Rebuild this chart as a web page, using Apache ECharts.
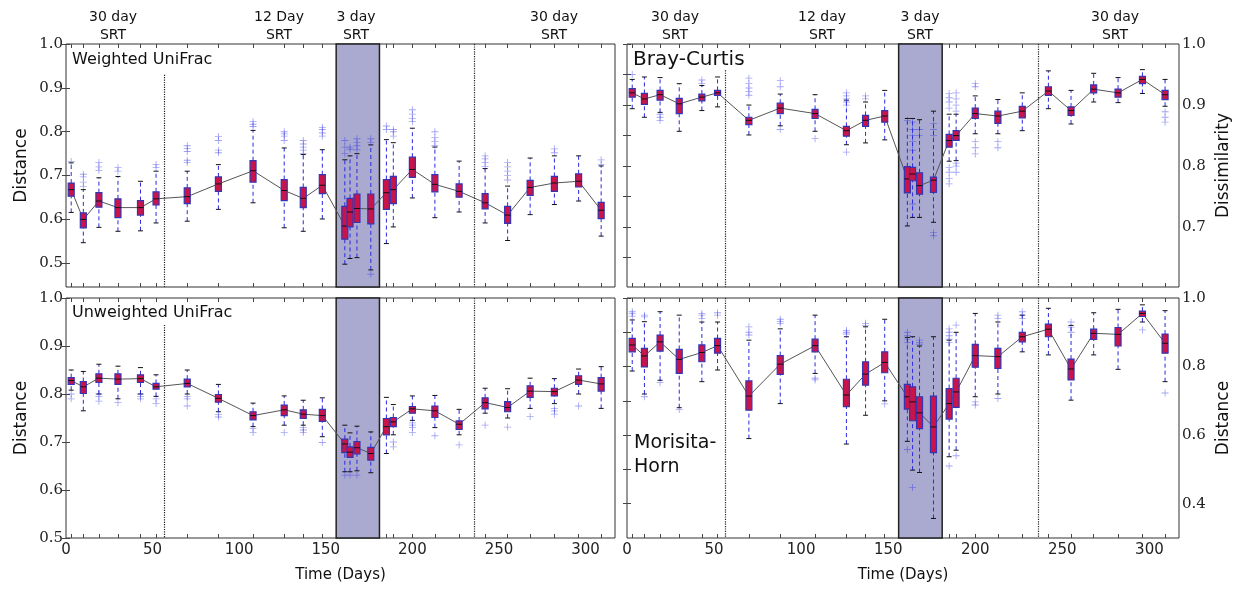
<!DOCTYPE html>
<html><head><meta charset="utf-8">
<script src="https://cdn.jsdelivr.net/npm/echarts@6/dist/echarts.min.js"></script>
<style>html,body{margin:0;padding:0;background:#fff}#c{width:1238px;height:590px}</style>
</head><body><div id="c"></div>
<script>
const days = [3,10,19,30,43,52,70,88,108,126,137,148,161,164,168,176,185,189,200,213,227,242,255,268,282,296,309];

// Weighted UniFrac
const wuMed = [0.668,0.600,0.642,0.627,0.627,0.647,0.652,0.681,0.711,0.666,0.648,0.678,0.585,0.617,0.625,0.624,0.661,0.668,0.714,0.680,0.664,0.638,0.610,0.673,0.683,0.687,0.621];
const wuQ1 = [0.653,0.581,0.628,0.604,0.610,0.633,0.636,0.664,0.685,0.643,0.627,0.659,0.555,0.583,0.593,0.590,0.623,0.636,0.696,0.663,0.651,0.624,0.591,0.655,0.664,0.674,0.602];
const wuQ3 = [0.683,0.615,0.661,0.647,0.643,0.663,0.672,0.697,0.734,0.691,0.673,0.702,0.630,0.648,0.658,0.658,0.691,0.698,0.742,0.702,0.681,0.659,0.630,0.689,0.698,0.704,0.639];
const wuLo = [0.616,0.547,0.582,0.573,0.574,0.592,0.596,0.623,0.638,0.581,0.573,0.601,0.498,0.511,0.513,0.485,0.545,0.583,0.649,0.604,0.617,0.592,0.552,0.611,0.634,0.642,0.562];
const wuHi = [0.729,0.668,0.695,0.698,0.687,0.710,0.710,0.725,0.803,0.763,0.748,0.759,0.736,0.745,0.750,0.770,0.782,0.775,0.808,0.765,0.733,0.716,0.676,0.740,0.745,0.745,0.722];
const wuOut = [[0.732],[0.675,0.685,0.697,0.703],[0.712,0.72,0.73],[0.71,0.718],[],[0.718,0.725],[0.73,0.735,0.755,0.762,0.768],[0.752,0.758,0.78,0.789],[0.812,0.817,0.823],[0.78,0.79,0.795,0.80],[0.75,0.758,0.765,0.772,0.78],[0.79,0.797,0.805,0.81],[0.75,0.765,0.78],[0.76,0.765],[0.759,0.768,0.775,0.784],[0.775,0.784,0.475],[0.805,0.813],[0.79,0.80,0.805],[0.823,0.83,0.84,0.85],[0.768,0.778,0.787,0.80],[],[0.721,0.73,0.738,0.745],[0.69,0.70,0.71,0.72,0.73],[],[0.752,0.761],[],[0.725,0.736]];

// Bray-Curtis
const bcMed = [0.920,0.910,0.917,0.902,0.913,0.920,0.875,0.895,0.886,0.858,0.875,0.882,0.779,0.787,0.768,0.777,0.842,0.850,0.886,0.882,0.890,0.923,0.891,0.926,0.920,0.942,0.917];
const bcQ1 = [0.913,0.901,0.908,0.886,0.907,0.916,0.868,0.886,0.878,0.849,0.865,0.872,0.756,0.776,0.754,0.757,0.831,0.842,0.878,0.870,0.879,0.916,0.883,0.920,0.913,0.935,0.909];
const bcQ3 = [0.927,0.919,0.924,0.911,0.918,0.924,0.880,0.903,0.893,0.865,0.883,0.891,0.799,0.798,0.789,0.782,0.852,0.858,0.895,0.890,0.898,0.930,0.897,0.933,0.926,0.947,0.924];
const bcLo = [0.894,0.880,0.888,0.857,0.891,0.897,0.851,0.866,0.857,0.835,0.838,0.843,0.702,0.716,0.716,0.708,0.808,0.809,0.853,0.853,0.858,0.894,0.869,0.905,0.904,0.919,0.898];
const bcHi = [0.942,0.946,0.945,0.935,0.932,0.946,0.900,0.918,0.917,0.908,0.905,0.924,0.878,0.878,0.876,0.890,0.885,0.885,0.915,0.909,0.920,0.956,0.924,0.952,0.945,0.958,0.942];
const bcOut = [[0.950],[],[0.875,0.88,0.885],[],[0.935,0.941],[],[0.916,0.922,0.928,0.935,0.944],[0.93,0.94,0.86],[0.845],[0.90,0.905,0.91,0.915,0.92,0.823],[0.91,0.915],[],[0.875],[0.826,0.84,0.85,0.86,0.872,0.738],[0.85,0.86],[0.85,0.86,0.87,0.691,0.686],[0.895,0.905,0.912,0.919,0.771,0.78,0.79,0.798],[0.89,0.90,0.91,0.92,0.79,0.80,0.805],[0.93,0.935,0.82,0.83,0.84],[0.83,0.84],[],[],[],[],[],[],[0.872,0.88,0.889]];

// Unweighted UniFrac
const uuMed = [0.828,0.815,0.833,0.831,0.832,0.815,0.822,0.791,0.755,0.767,0.758,0.755,0.696,0.679,0.688,0.676,0.732,0.742,0.769,0.765,0.737,0.782,0.772,0.806,0.805,0.829,0.821];
const uuQ1 = [0.820,0.801,0.824,0.820,0.824,0.810,0.815,0.783,0.746,0.755,0.749,0.743,0.678,0.668,0.675,0.662,0.715,0.732,0.760,0.751,0.726,0.769,0.763,0.793,0.796,0.820,0.806];
const uuQ3 = [0.834,0.826,0.842,0.842,0.840,0.822,0.831,0.799,0.763,0.777,0.767,0.768,0.706,0.690,0.701,0.689,0.749,0.751,0.774,0.775,0.744,0.792,0.784,0.817,0.812,0.838,0.834];
const uuLo = [0.808,0.765,0.800,0.790,0.800,0.795,0.800,0.763,0.732,0.735,0.735,0.711,0.638,0.638,0.640,0.636,0.676,0.715,0.745,0.730,0.715,0.760,0.750,0.770,0.780,0.800,0.770];
const uuHi = [0.850,0.847,0.862,0.858,0.855,0.840,0.850,0.820,0.781,0.796,0.787,0.792,0.735,0.719,0.733,0.721,0.793,0.778,0.796,0.797,0.768,0.812,0.811,0.833,0.832,0.852,0.857];
const uuOut = [[0.80,0.79],[],[0.785,0.795,0.80],[0.782],[0.79,0.795,0.80],[0.78,0.79],[0.775,0.79,0.795],[0.752,0.757],[0.72,0.728],[0.72],[0.72,0.725,0.73],[0.699],[0.631],[0.631],[0.631],[],[],[0.69,0.70],[0.72,0.73,0.735,0.74],[0.713],[0.694],[0.735],[0.731],[0.753],[0.758,0.765,0.77],[0.775],[]];

// Morisita-Horn
const mhMed = [0.863,0.831,0.872,0.821,0.841,0.861,0.714,0.807,0.861,0.717,0.778,0.812,0.712,0.697,0.665,0.624,0.692,0.726,0.832,0.829,0.887,0.909,0.793,0.897,0.894,0.955,0.868];
const mhQ1 = [0.843,0.799,0.845,0.780,0.814,0.839,0.673,0.777,0.843,0.683,0.746,0.782,0.676,0.642,0.619,0.549,0.647,0.681,0.798,0.795,0.872,0.887,0.761,0.879,0.860,0.946,0.839];
const mhQ3 = [0.882,0.853,0.892,0.850,0.863,0.882,0.758,0.832,0.880,0.763,0.814,0.843,0.748,0.741,0.712,0.714,0.736,0.766,0.865,0.853,0.900,0.924,0.822,0.909,0.914,0.962,0.895];
const mhLo = [0.787,0.720,0.760,0.680,0.756,0.790,0.590,0.692,0.780,0.574,0.658,0.700,0.582,0.498,0.491,0.357,0.537,0.556,0.712,0.720,0.843,0.834,0.702,0.834,0.792,0.930,0.756];
const mhHi = [0.936,0.931,0.960,0.950,0.930,0.930,0.877,0.910,0.950,0.887,0.916,0.938,0.885,0.887,0.860,0.887,0.877,0.900,0.955,0.930,0.950,0.970,0.920,0.957,0.967,0.980,0.963];
const mhOut = [[0.947,0.955,0.96],[0.945,0.95,0.712],[0.753],[0.675],[0.94,0.95,0.955],[0.95,0.957],[0.892,0.90,0.916],[0.926,0.932,0.938],[0.761,0.766],[0.895,0.90,0.905],[0.92,0.926],[0.691],[0.87,0.88,0.89,0.90,0.558],[0.447],[0.865,0.87,0.877],[],[0.87,0.88,0.89,0.90,0.91,0.51],[0.921,0.54],[0.688,0.697],[0.94,0.95,0.707],[0.94,0.95,0.96],[],[0.90,0.915,0.93],[],[],[0.907],[0.723]];

const xTickLabels = [0,50,100,150,200,250,300];
const srtLabels = ['30 day\nSRT','12 Day\nSRT','3 day\nSRT','30 day\nSRT'];
const srtLabelsRight = ['30 day\nSRT','12 day\nSRT','3 day\nSRT','30 day\nSRT'];
const shadeDays = [156, 181];
const switchDays = [56.5, 236];

const panels = [
  {med:wuMed,q1:wuQ1,q3:wuQ3,lo:wuLo,hi:wuHi,out:wuOut, grid:{left:66,top:44,width:549,height:243},
   ymin:0.446,ymax:1.0,labels:[0.5,0.6,0.7,0.8,0.9,1.0],ticks:[0.5,0.6,0.7,0.8,0.9,1.0],side:'left',yname:'Distance',bottom:false,dotStart:0.93},
  {med:uuMed,q1:uuQ1,q3:uuQ3,lo:uuLo,hi:uuHi,out:uuOut, grid:{left:66,top:298,width:549,height:240},
   ymin:0.5,ymax:1.0,labels:[0.5,0.6,0.7,0.8,0.9,1.0],ticks:[0.5,0.6,0.7,0.8,0.9,1.0],side:'left',yname:'Distance',bottom:true,dotStart:0.944},
  {med:bcMed,q1:bcQ1,q3:bcQ3,lo:bcLo,hi:bcHi,out:bcOut, grid:{left:627,top:44,width:552,height:243},
   ymin:0.602,ymax:1.0,labels:[0.7,0.8,0.9,1.0],ticks:[0.65,0.7,0.75,0.8,0.85,0.9,0.95,1.0],side:'right',yname:'Dissimilarity',bottom:false,dotStart:0.957},
  {med:mhMed,q1:mhQ1,q3:mhQ3,lo:mhLo,hi:mhHi,out:mhOut, grid:{left:627,top:298,width:552,height:240},
   ymin:0.3,ymax:1.0,labels:[0.4,0.6,0.8,1.0],ticks:[0.4,0.5,0.6,0.7,0.8,0.9,1.0],side:'right',yname:'Distance',bottom:true,dotStart:1.0}
];

const grids=[], xAxes=[], yAxes=[], series=[];
const tickStyle = {color:'#444', width:1};
panels.forEach((p,i)=>{
  grids.push(Object.assign({show:true, borderColor:'#333', borderWidth:1, backgroundColor:'transparent'}, p.grid));
  xAxes.push({gridIndex:i, type:'value', min:0, max:317, position:'bottom',
    axisLine:{show:false}, splitLine:{show:false},
    axisTick:{show:true, inside:true, length:4, customValues:days, lineStyle:tickStyle},
    axisLabel:{show:p.bottom, customValues:xTickLabels, fontFamily:'DejaVu Sans', fontSize:15, color:'#222', margin:5},
    name:p.bottom?'Time (Days)':'', nameLocation:'middle', nameGap:30,
    nameTextStyle:{fontFamily:'DejaVu Sans', fontSize:15, color:'#111'}});
  xAxes.push({gridIndex:i, type:'value', min:0, max:317, position:'top',
    axisLine:{show:false}, splitLine:{show:false},
    axisTick:{show:true, inside:true, length:4, customValues:days, lineStyle:tickStyle},
    axisLabel:{show:false}});
  const lab = {fontFamily:'DejaVu Serif', fontSize:15, color:'#222', margin:3, customValues:p.labels, formatter:v=>v.toFixed(1)};
  yAxes.push({gridIndex:i, type:'value', min:p.ymin, max:p.ymax, position:'left',
    axisLine:{show:false}, splitLine:{show:false},
    axisTick:{show:true, inside:true, length:4, customValues:p.ticks, lineStyle:tickStyle},
    axisLabel:Object.assign({show:p.side==='left'}, lab),
    name:p.side==='left'?p.yname:'', nameLocation:'middle', nameRotate:90, nameGap:36,
    nameTextStyle:{fontFamily:'DejaVu Sans', fontSize:17, color:'#111'}});
  yAxes.push({gridIndex:i, type:'value', min:p.ymin, max:p.ymax, position:'right',
    axisLine:{show:false}, splitLine:{show:false},
    axisTick:{show:true, inside:true, length:4, customValues:p.ticks, lineStyle:tickStyle},
    axisLabel:Object.assign({show:p.side==='right'}, lab),
    name:p.side==='right'?p.yname:'', nameLocation:'middle', nameRotate:90, nameGap:36,
    nameTextStyle:{fontFamily:'DejaVu Sans', fontSize:17, color:'#111'}});

  const medPts = days.map((d,k)=>[d,p.med[k]]);
  series.push({type:'line', xAxisIndex:2*i, yAxisIndex:2*i, data:medPts, z:1, silent:true,
    showSymbol:false, symbol:'none', lineStyle:{opacity:0},
    markArea:{silent:true, itemStyle:{color:'#aaaad0', borderColor:'#222', borderWidth:1.5},
      data:[[{coord:[shadeDays[0], p.ymin]},{coord:[shadeDays[1], p.ymax]}]]},
    markLine:{silent:true, symbol:'none', label:{show:false}, lineStyle:{type:'dotted', color:'#222', width:1.2},
      data:[[{coord:[switchDays[0], p.dotStart]},{coord:[switchDays[0], p.ymin]}],
            [{coord:[switchDays[1], p.ymax]},{coord:[switchDays[1], p.ymin]}]]}
  });
  series.push({type:'line', xAxisIndex:2*i, yAxisIndex:2*i, data:medPts, z:3, silent:true,
    showSymbol:false, symbol:'none', lineStyle:{color:'#555', width:1}});
  series.push({type:'custom', xAxisIndex:2*i, yAxisIndex:2*i, z:4, silent:true,
    encode:{x:0, y:[1,2,3,4,5]},
    data: days.map((d,k)=>[d,p.lo[k],p.q1[k],p.med[k],p.q3[k],p.hi[k]]),
    renderItem:(params, api)=>{
      const x = api.value(0);
      const lo = api.coord([x, api.value(1)]), q1 = api.coord([x, api.value(2)]),
            md = api.coord([x, api.value(3)]), q3 = api.coord([x, api.value(4)]),
            hi = api.coord([x, api.value(5)]);
      const hw = 3, cw = 2.5, cx = md[0];
      return {type:'group', children:[
        {type:'line', shape:{x1:cx,y1:lo[1],x2:cx,y2:q1[1]}, style:{stroke:'#2a2ae0', lineWidth:1, lineDash:[4,3]}},
        {type:'line', shape:{x1:cx,y1:q3[1],x2:cx,y2:hi[1]}, style:{stroke:'#2a2ae0', lineWidth:1, lineDash:[4,3]}},
        {type:'line', shape:{x1:cx-cw,y1:lo[1],x2:cx+cw,y2:lo[1]}, style:{stroke:'#111', lineWidth:1}},
        {type:'line', shape:{x1:cx-cw,y1:hi[1],x2:cx+cw,y2:hi[1]}, style:{stroke:'#111', lineWidth:1}},
        {type:'rect', shape:{x:cx-hw,y:q3[1],width:2*hw,height:q1[1]-q3[1]}, style:{fill:'#c81448', stroke:'#3434b4', lineWidth:1.2}},
        {type:'line', shape:{x1:cx-hw,y1:md[1],x2:cx+hw,y2:md[1]}, style:{stroke:'#111', lineWidth:1}}
      ]};
    }});
  const outPts = [];
  p.out.forEach((arr,k)=>arr.forEach(v=>outPts.push([days[k], v])));
  series.push({type:'scatter', xAxisIndex:2*i, yAxisIndex:2*i, z:5, silent:true, data:outPts,
    symbol:'path://M0,4.4H10V5.6H0Z M4.4,0H5.6V10H4.4Z', symbolSize:7,
    itemStyle:{color:'rgba(45,45,235,0.55)'}});
});

const txt = (x,y,text,size,align)=>({type:'text', x:x, y:y, silent:true,
  style:{text:text, font:size+'px "DejaVu Sans"', fill:'#111', align:align||'center', verticalAlign:'middle', lineHeight:Math.round(size*1.25)}});
const graphics = [
  txt(113,26,srtLabels[0],14), txt(279,26,srtLabels[1],14), txt(356,26,srtLabels[2],14), txt(554,26,srtLabels[3],14),
  txt(675,26,srtLabelsRight[0],14), txt(822,26,srtLabelsRight[1],14), txt(920,26,srtLabelsRight[2],14), txt(1115,26,srtLabelsRight[3],14),
  txt(72,60,'Weighted UniFrac',16,'left'),
  txt(72,313,'Unweighted UniFrac',16,'left'),
  txt(633,60,'Bray-Curtis',20,'left'),
  txt(634,455,'Morisita-\nHorn',19,'left')
];

const chart = echarts.init(document.getElementById('c'), null, {renderer:'canvas'});
chart.setOption({animation:false, backgroundColor:'#fff', grid:grids, xAxis:xAxes, yAxis:yAxes, series:series, graphic:graphics});
</script></body></html>
